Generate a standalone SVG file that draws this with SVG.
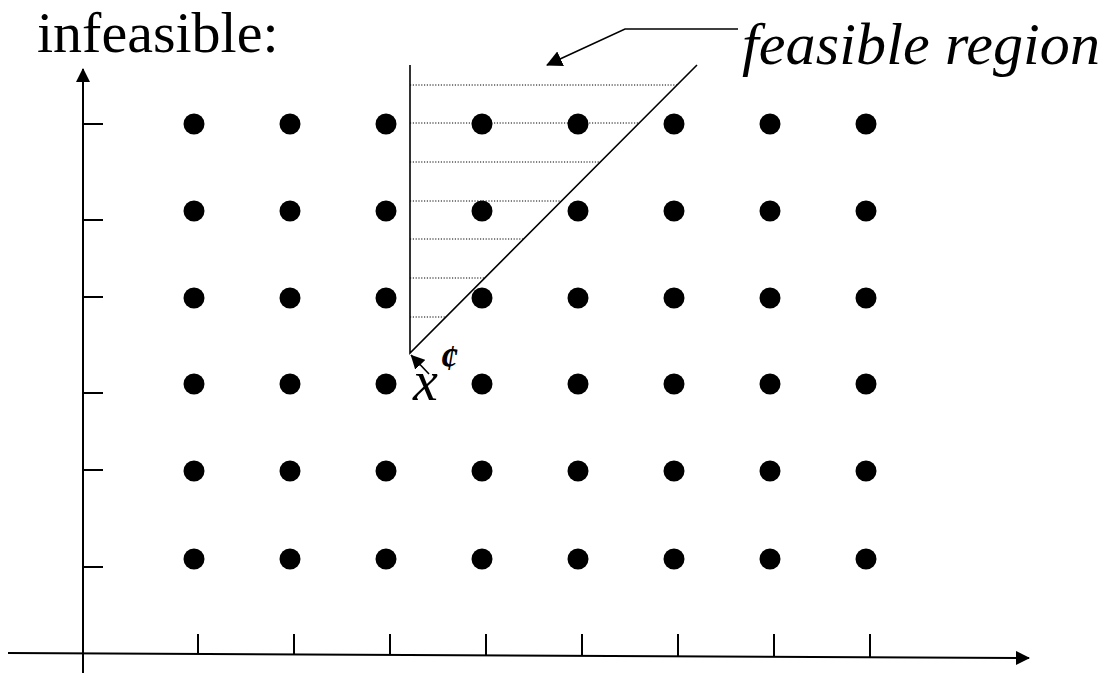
<svg xmlns="http://www.w3.org/2000/svg" width="1111" height="675" viewBox="0 0 1111 675">
  <style>
    .ax { stroke: #000; stroke-width: 2; fill: none; }
    .tick { stroke: #000; stroke-width: 2; }
    .edge { stroke: #000; stroke-width: 1.6; fill: none; }
    .hatch { stroke: #000; stroke-width: 1; stroke-dasharray: 1.2 1.6; }
    .pt { fill: #000; }
    .serif { font-family: "Liberation Serif", "Times New Roman", serif; fill: #000; }
  </style>
  <defs>
    <marker id="ah" markerUnits="userSpaceOnUse" markerWidth="14" markerHeight="14" viewBox="0 0 14 14" refX="13" refY="7" orient="auto">
      <path d="M0,0 L14,7 L0,14 Z" fill="#000"/>
    </marker>
    <marker id="ahl" markerUnits="userSpaceOnUse" markerWidth="16" markerHeight="16" viewBox="0 0 16 16" refX="15" refY="8" orient="auto">
      <path d="M0,0 L16,8 L0,16 Z" fill="#000"/>
    </marker>
    <marker id="ahs" markerUnits="userSpaceOnUse" markerWidth="14" markerHeight="14" viewBox="0 0 14 14" refX="13.5" refY="7" orient="auto">
      <path d="M0,0 L14,7 L0,14 Z" fill="#000"/>
    </marker>
  </defs>

  <g id="axes">
    <line class="ax" x1="83" y1="673" x2="83" y2="69" marker-end="url(#ah)"/>
    <line class="ax" x1="8" y1="653" x2="1029" y2="658" marker-end="url(#ah)"/>
    <g id="yticks">
      <line class="tick" x1="83" y1="124" x2="103" y2="124"/>
      <line class="tick" x1="83" y1="220" x2="103" y2="220"/>
      <line class="tick" x1="83" y1="297" x2="103" y2="297"/>
      <line class="tick" x1="83" y1="393" x2="103" y2="393"/>
      <line class="tick" x1="83" y1="470" x2="103" y2="470"/>
      <line class="tick" x1="83" y1="567" x2="103" y2="567"/>
    </g>
    <g id="xticks">
      <line class="tick" x1="198" y1="634" x2="198" y2="654"/>
      <line class="tick" x1="294" y1="634" x2="294" y2="655"/>
      <line class="tick" x1="390" y1="634" x2="390" y2="655"/>
      <line class="tick" x1="486" y1="634" x2="486" y2="656"/>
      <line class="tick" x1="582" y1="634" x2="582" y2="656"/>
      <line class="tick" x1="678" y1="634" x2="678" y2="657"/>
      <line class="tick" x1="774" y1="634" x2="774" y2="657"/>
      <line class="tick" x1="870" y1="634" x2="870" y2="658"/>
    </g>
  </g>

  <g id="feasible-region">
    <g id="hatching">
      <line class="hatch" x1="410" y1="85" x2="677" y2="85"/>
      <line class="hatch" x1="410" y1="123" x2="639" y2="123"/>
      <line class="hatch" x1="410" y1="162" x2="600" y2="162"/>
      <line class="hatch" x1="410" y1="201" x2="561" y2="201"/>
      <line class="hatch" x1="410" y1="239" x2="523" y2="239"/>
      <line class="hatch" x1="410" y1="278" x2="484" y2="278"/>
      <line class="hatch" x1="410" y1="317" x2="445" y2="317"/>
    </g>
    <polyline class="edge" points="410,65 410,353 697,65"/>
  </g>

  <g id="lattice">
    <g id="row1">
      <circle class="pt" cx="194" cy="124" r="10.5"/><circle class="pt" cx="290" cy="124" r="10.5"/><circle class="pt" cx="386" cy="124" r="10.5"/><circle class="pt" cx="482" cy="124" r="10.5"/><circle class="pt" cx="578" cy="124" r="10.5"/><circle class="pt" cx="674" cy="124" r="10.5"/><circle class="pt" cx="770" cy="124" r="10.5"/><circle class="pt" cx="866" cy="124" r="10.5"/>
    </g>
    <g id="row2">
      <circle class="pt" cx="194" cy="211" r="10.5"/><circle class="pt" cx="290" cy="211" r="10.5"/><circle class="pt" cx="386" cy="211" r="10.5"/><circle class="pt" cx="482" cy="211" r="10.5"/><circle class="pt" cx="578" cy="211" r="10.5"/><circle class="pt" cx="674" cy="211" r="10.5"/><circle class="pt" cx="770" cy="211" r="10.5"/><circle class="pt" cx="866" cy="211" r="10.5"/>
    </g>
    <g id="row3">
      <circle class="pt" cx="194" cy="298" r="10.5"/><circle class="pt" cx="290" cy="298" r="10.5"/><circle class="pt" cx="386" cy="298" r="10.5"/><circle class="pt" cx="482" cy="298" r="10.5"/><circle class="pt" cx="578" cy="298" r="10.5"/><circle class="pt" cx="674" cy="298" r="10.5"/><circle class="pt" cx="770" cy="298" r="10.5"/><circle class="pt" cx="866" cy="298" r="10.5"/>
    </g>
    <g id="row4">
      <circle class="pt" cx="194" cy="384" r="10.5"/><circle class="pt" cx="290" cy="384" r="10.5"/><circle class="pt" cx="386" cy="384" r="10.5"/><circle class="pt" cx="482" cy="384" r="10.5"/><circle class="pt" cx="578" cy="384" r="10.5"/><circle class="pt" cx="674" cy="384" r="10.5"/><circle class="pt" cx="770" cy="384" r="10.5"/><circle class="pt" cx="866" cy="384" r="10.5"/>
    </g>
    <g id="row5">
      <circle class="pt" cx="194" cy="471" r="10.5"/><circle class="pt" cx="290" cy="471" r="10.5"/><circle class="pt" cx="386" cy="471" r="10.5"/><circle class="pt" cx="482" cy="471" r="10.5"/><circle class="pt" cx="578" cy="471" r="10.5"/><circle class="pt" cx="674" cy="471" r="10.5"/><circle class="pt" cx="770" cy="471" r="10.5"/><circle class="pt" cx="866" cy="471" r="10.5"/>
    </g>
    <g id="row6">
      <circle class="pt" cx="194" cy="559" r="10.5"/><circle class="pt" cx="290" cy="559" r="10.5"/><circle class="pt" cx="386" cy="559" r="10.5"/><circle class="pt" cx="482" cy="559" r="10.5"/><circle class="pt" cx="578" cy="559" r="10.5"/><circle class="pt" cx="674" cy="559" r="10.5"/><circle class="pt" cx="770" cy="559" r="10.5"/><circle class="pt" cx="866" cy="559" r="10.5"/>
    </g>
  </g>

  <g id="connectors">
    <polyline class="edge" points="738,29 625,29 547,65" marker-end="url(#ahl)"/>
    <line class="edge" x1="429" y1="374" x2="411" y2="355" marker-end="url(#ahs)"/>
  </g>

  <g id="label-infeasible">
    <text class="serif" x="37" y="52" font-size="58">infeasible:</text>
  </g>
  <g id="label-feasible">
    <text class="serif" x="742" y="64" font-size="60" font-style="italic" textLength="358" lengthAdjust="spacing">feasible region</text>
  </g>
  <g id="label-xc">
    <text class="serif" x="413" y="400" font-size="56" font-style="italic">x</text>
    <text class="serif" x="440" y="370" font-size="36" font-style="italic" font-weight="bold">¢</text>
  </g>
</svg>
